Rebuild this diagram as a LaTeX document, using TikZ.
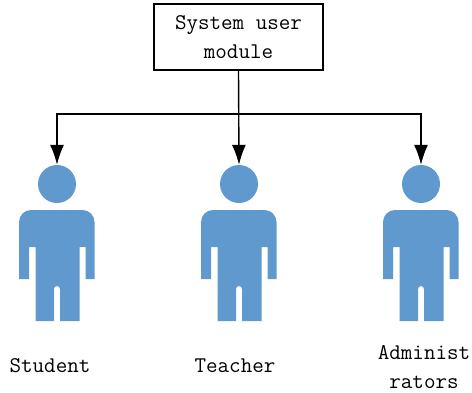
\documentclass[tikz,border=0pt]{standalone}
\usepackage{tikz}
\usetikzlibrary{arrows.meta}

\definecolor{userblue}{RGB}{96,153,205}

\tikzset{
    label text/.style={font=\fontsize{22.4}{29}\selectfont\ttfamily, align=center, inner sep=0pt},
    module box/.style={draw, line width=1.3pt, minimum width=169pt, minimum height=66pt, inner sep=0pt},
    user head/.style={circle, fill=userblue, minimum size=38pt, inner sep=0pt},
    link/.style={line width=1.4pt},
    tip/.style={-{Latex[length=20pt,width=14pt]}}
}

% body of one user, below the head
\newcommand{\userbody}[1]{
    \fill[userblue, shift={(#1.center)}]
        (-38,38) arc[start angle=180, end angle=270, radius=12] -- (25.5,26) arc[start angle=270, end angle=360, radius=12]
        -- (37.5,95) -- (28.5,95) -- (28.5,63) -- (22.7,63) -- (22.7,137) -- (3,137) -- (3,105)
        arc[start angle=0, end angle=-180, radius=3] -- (-3,137) -- (-21.3,137) -- (-21.3,63)
        -- (-28,63) -- (-28,95) -- (-38,95) -- cycle;
}

\begin{document}
\begin{tikzpicture}[x=1pt, y=-1pt]
        \useasboundingbox (0,0) rectangle (472,392);

        \node[module box, label text] (module) at (238.5,37) {System user\\module};

        \node[user head] (student) at (57,184) {};
        \node[user head] (teacher) at (239,184) {};
        \node[user head] (admin) at (421,184) {};
        \userbody{student}
        \userbody{teacher}
        \userbody{admin}

        \coordinate (busleft) at (57,114);
        \coordinate (busright) at (421,114);
        \draw[link, tip] (module.south) -- (teacher.north);
        \draw[link, tip] (busleft) -- (student.north);
        \draw[link, tip] (busright) -- (admin.north);
        \draw[link, line cap=rect] (busleft) -- (busright);

        \node[label text] (studentname) at (50,366) {Student};
        \node[label text] (teachername) at (235,366) {Teacher};
        \node[label text] (adminname) at (424,367) {Administ\\rators};
    \end{tikzpicture}
\end{document}
